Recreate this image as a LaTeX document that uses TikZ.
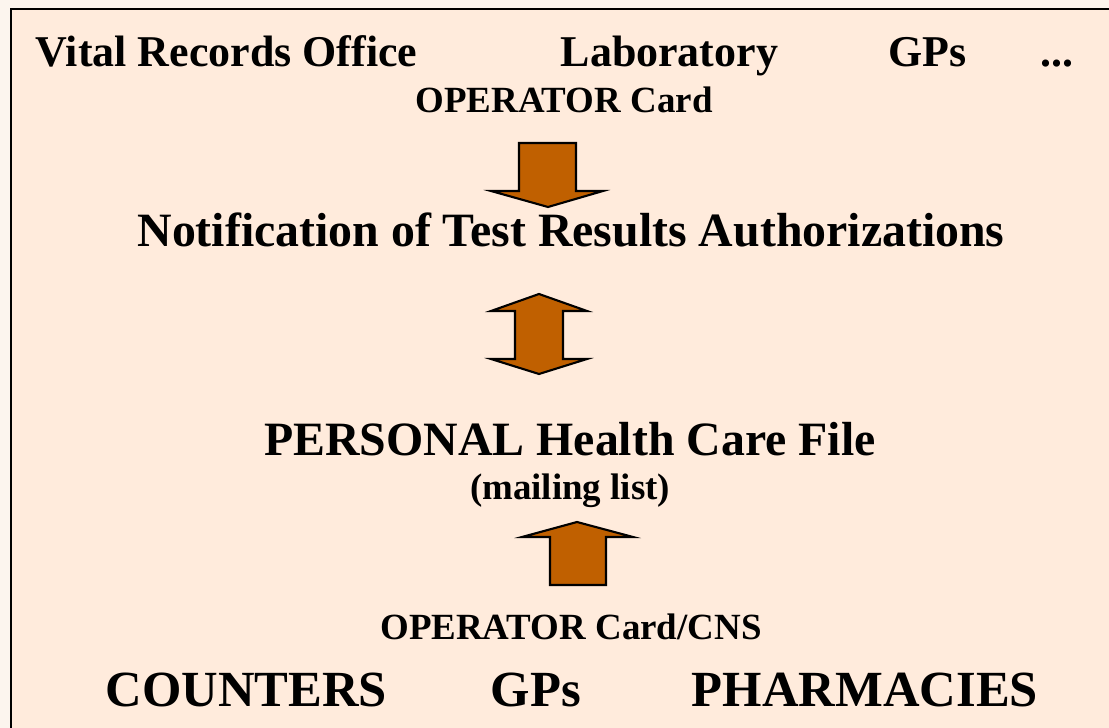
\documentclass[tikz,border=0pt]{standalone}
\usepackage{fontspec}
\setmainfont{Liberation Serif}
\usepackage{xcolor}

\definecolor{paper}{HTML}{FCF5EE}
\definecolor{peach}{HTML}{FFEBDC}
\definecolor{rust}{HTML}{C06000}

\tikzset{
  txt/.style={inner sep=0pt, font=\bfseries},
  big/.style={txt, font=\bfseries\fontsize{12.5}{15}\selectfont},
  head/.style={txt, font=\bfseries\fontsize{13.6}{16}\selectfont},
  small/.style={txt, font=\bfseries\fontsize{10.5}{12}\selectfont},
  foot/.style={txt, font=\bfseries\fontsize{14.4}{17}\selectfont},
  blockarrow/.style={fill=rust, draw=black, line width=0.6pt, line join=miter}
}

\begin{document}
\begin{tikzpicture}[x=0.01cm,y=-0.01cm]

\useasboundingbox (0,0) rectangle (1109,728);
\fill[paper] (0,0) rectangle (1109,728);
\filldraw[fill=peach, draw=black, line width=0.6pt] (11,9) rectangle (1120,740);

%top row
\node[big, anchor=base west] at (35, 67) (vital) {Vital Records Office};
\node[big, anchor=base west] at (560, 67) (lab) {Laboratory};
\node[big, anchor=base west] at (888, 67) (gps1) {GPs};
\node[big, anchor=base west] at (1040, 67) (dots) {...};
\node[small, anchor=base] at (564, 113) (opcard) {OPERATOR Card};

%middle
\node[head, anchor=base] at (571, 247) (notif) {Notification of Test Results Authorizations};
\node[head, anchor=base] at (570, 456) (phcf) {PERSONAL Health Care File};
\node[small, anchor=base] at (570, 500) (mail) {(mailing list)};

%bottom row
\node[small, anchor=base] at (571, 640) (opcns) {OPERATOR Card/CNS};
\node[foot, anchor=base west] at (105, 706) (counters) {COUNTERS};
\node[foot, anchor=base west] at (490, 706) (gps2) {GPs};
\node[foot, anchor=base] at (865, 706) (pharm) {PHARMACIES};

%arrows
\draw[blockarrow] (519,143) -- (576,143) -- (576,191) -- (603,191) -- (548,207)
  -- (491,191) -- (519,191) -- cycle;
\draw[blockarrow] (539,294) -- (587,311) -- (563,311) -- (563,359) -- (587,359)
  -- (539,374) -- (491,359) -- (515,359) -- (515,311) -- (491,311) -- cycle;
\draw[blockarrow] (577,522) -- (633,537) -- (606,537) -- (606,585) -- (550,585)
  -- (550,537) -- (522,537) -- cycle;

\end{tikzpicture}
\end{document}
